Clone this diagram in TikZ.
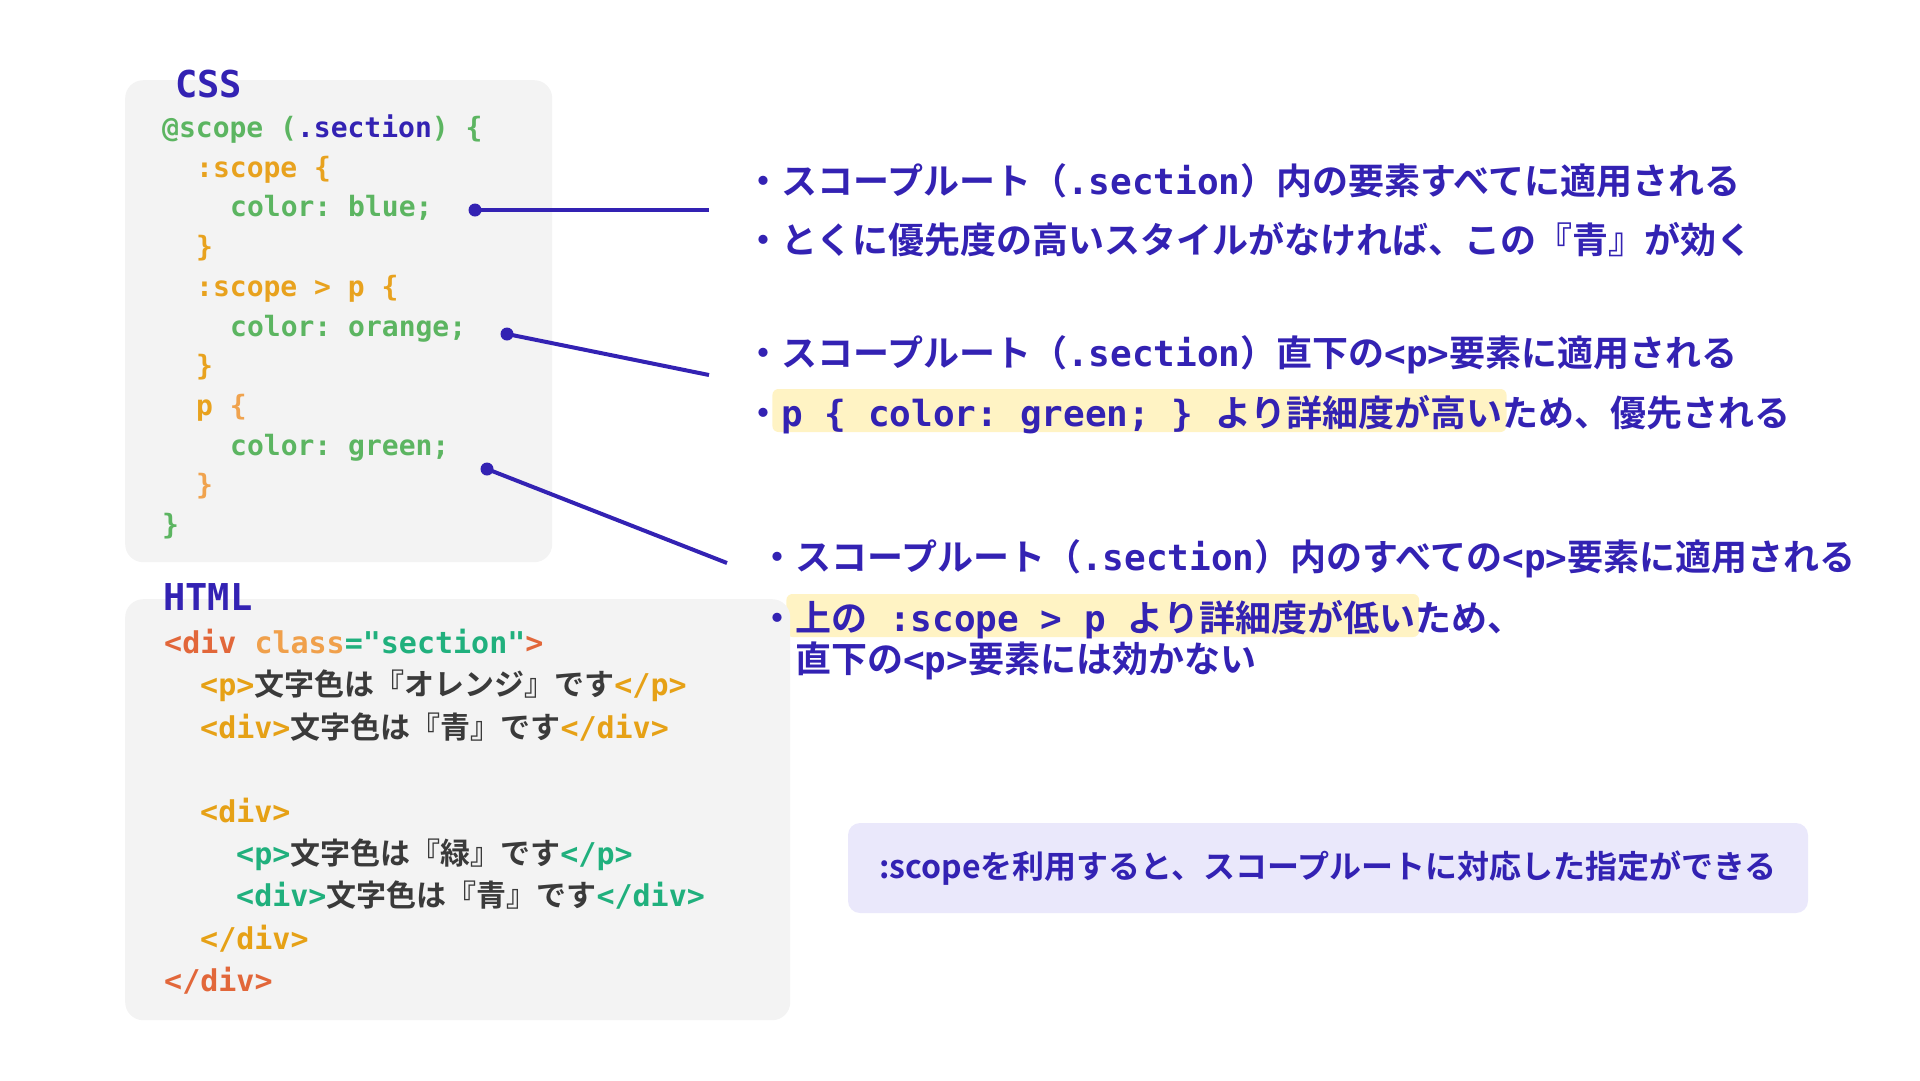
\documentclass[tikz,border=0pt]{standalone}
\usepackage{fontspec}
\usetikzlibrary{calc,backgrounds}
\newfontfamily\jp{Noto Sans CJK JP}[BoldFont={* Bold}]
\newfontfamily\mono{DejaVu Sans Mono}[Ligatures=TeXOff]
\newcommand\mt[1]{{\mono #1}}
\newcommand\jt[1]{{\jp #1}}
\definecolor{navy}{HTML}{3322B3}
\definecolor{cssgreen}{HTML}{5CB561}
\definecolor{cssorange}{HTML}{E8A21E}
\definecolor{csslorange}{HTML}{F0A34E}
\definecolor{hred}{HTML}{E2673A}
\definecolor{horange}{HTML}{F0A04B}
\definecolor{hteal}{HTML}{20B07D}
\definecolor{hyellow}{HTML}{E6A116}
\definecolor{jgray}{HTML}{3A3A3A}
\definecolor{boxgray}{HTML}{F3F3F3}
\definecolor{hlyellow}{HTML}{FFF3C4}
\definecolor{lavender}{HTML}{EAE8FB}
\tikzset{
  txt/.style={inner sep=0pt, anchor=base west},
  csscode/.style={txt, font=\mono\bfseries\fontsize{28}{34}\selectfont},
  htmlcode/.style={txt, font=\mono\bfseries\fontsize{30}{36}\selectfont},
  title/.style={txt, font=\mono\bfseries\fontsize{37}{44}\selectfont, text=navy},
  note/.style={txt, font=\jp\bfseries\fontsize{36}{43}\selectfont, text=navy},
  panel/.style={fill=boxgray, rounded corners=18pt, anchor=north west, inner sep=0pt},
  hl/.style={fill=hlyellow, rounded corners=6pt},
  link/.style={draw=navy, line width=4pt},
  dot/.style={circle, fill=navy, inner sep=0pt, minimum size=13pt},
}
\begin{document}
\frenchspacing
\begin{tikzpicture}[x=1pt,y=-1pt]
\useasboundingbox (0,0) rectangle (1920,1080);
% panels
\node[panel, minimum width=427pt, minimum height=482pt] (csspanel) at (125,80) {};
\node[panel, minimum width=665pt, minimum height=421pt] (htmlpanel) at (125,599) {};
% titles
\node[title] (csst) at (175,97) {CSS};
\node[title] (htmlt) at (163,610) {HTML};
% CSS code
\node[csscode] (c1) at (162,137) {\textcolor{cssgreen}{@scope (}\textcolor{navy}{.section}\textcolor{cssgreen}{) \{}};
\node[csscode, text=cssorange] (c2) at (196,177) {:scope \{};
\node[csscode, text=cssgreen] (c3) at (230,216) {color: blue;};
\node[csscode, text=cssorange] (c4) at (196,256) {\}};
\node[csscode, text=cssorange] (c5) at (196,296) {:scope > p \{};
\node[csscode, text=cssgreen] (c6) at (230,336) {color: orange;};
\node[csscode, text=cssorange] (c7) at (196,375) {\}};
\node[csscode] (c8) at (196,415) {\textcolor{cssorange}{p} \textcolor{csslorange}{\{}};
\node[csscode, text=cssgreen] (c9) at (230,455) {color: green;};
\node[csscode, text=csslorange] (c10) at (196,494) {\}};
\node[csscode, text=cssgreen] (c11) at (162,534) {\}};
% HTML code
\node[htmlcode] (h1) at (164,653) {\textcolor{hred}{<div} \textcolor{horange}{class}\textcolor{hteal}{="section"}\textcolor{hred}{>}};
\node[htmlcode] (h2) at (200,695) {\textcolor{hyellow}{<p>}\textcolor{jgray}{\jt{文字色は『オレンジ』です}}\textcolor{hyellow}{</p>}};
\node[htmlcode] (h3) at (200,738) {\textcolor{hyellow}{<div>}\textcolor{jgray}{\jt{文字色は『青』です}}\textcolor{hyellow}{</div>}};
\node[htmlcode, text=hyellow] (h4) at (200,822) {<div>};
\node[htmlcode] (h5) at (236,864) {\textcolor{hteal}{<p>}\textcolor{jgray}{\jt{文字色は『緑』です}}\textcolor{hteal}{</p>}};
\node[htmlcode] (h6) at (236,906) {\textcolor{hteal}{<div>}\textcolor{jgray}{\jt{文字色は『青』です}}\textcolor{hteal}{</div>}};
\node[htmlcode, text=hyellow] (h7) at (200,949) {</div>};
\node[htmlcode, text=hred] (h8) at (164,991) {</div>};
% notes
\node[note] (n1) at (745,194) {・スコープルート（\mt{.section}）内の要素すべてに適用される};
\node[note] (n2) at (745,253) {・とくに優先度の高いスタイルがなければ、この『青』が効く};
\node[note] (n3) at (745,366) {・スコープルート（\mt{.section}）直下の\mt{<p>}要素に適用される};
\node[note] (n4b) at (745,426) {・};
\node[note] (n4h) at (n4b.base east) {\mt{p \{ color: green; \} }より詳細度が高い};
\node[note] (n4r) at (n4h.base east) {ため、優先される};
\node[note] (n5) at (759,570) {・スコープルート（\mt{.section}）内のすべての\mt{<p>}要素に適用される};
\node[note] (n6b) at (759,631) {・};
\node[note] (n6h) at (n6b.base east) {上の\mt{ :scope > p }より詳細度が低い};
\node[note] (n6r) at (n6h.base east) {ため、};
\node[note] (n7) at (795,672) {直下の\mt{<p>}要素には効かない};
% highlights behind the highlighted parts
\begin{scope}[on background layer]
\fill[hl] ($(n4h.base west)+(-9,-37)$) rectangle ($(n4h.base east)+(4,6)$);
\fill[hl] ($(n6h.base west)+(-9,-37)$) rectangle ($(n6h.base east)+(4,6)$);
\end{scope}
% summary
\node[fill=lavender, rounded corners=12pt, minimum width=960pt, minimum height=90pt, inner sep=0pt,
      font=\jp\bfseries\fontsize{32}{38}\selectfont, text=navy] (sum) at (1328,868)
      {:scopeを利用すると、スコープルートに対応した指定ができる};
% connectors
\node[dot] (d1) at (475,210) {};
\node[dot] (d2) at (507,334) {};
\node[dot] (d3) at (487,469) {};
\coordinate (e1) at (709,210);
\coordinate (e2) at (709,375);
\coordinate (e3) at (727,563);
\draw[link] (d1.center) -- (e1);
\draw[link] (d2.center) -- (e2);
\draw[link] (d3.center) -- (e3);
\end{tikzpicture}
\end{document}
